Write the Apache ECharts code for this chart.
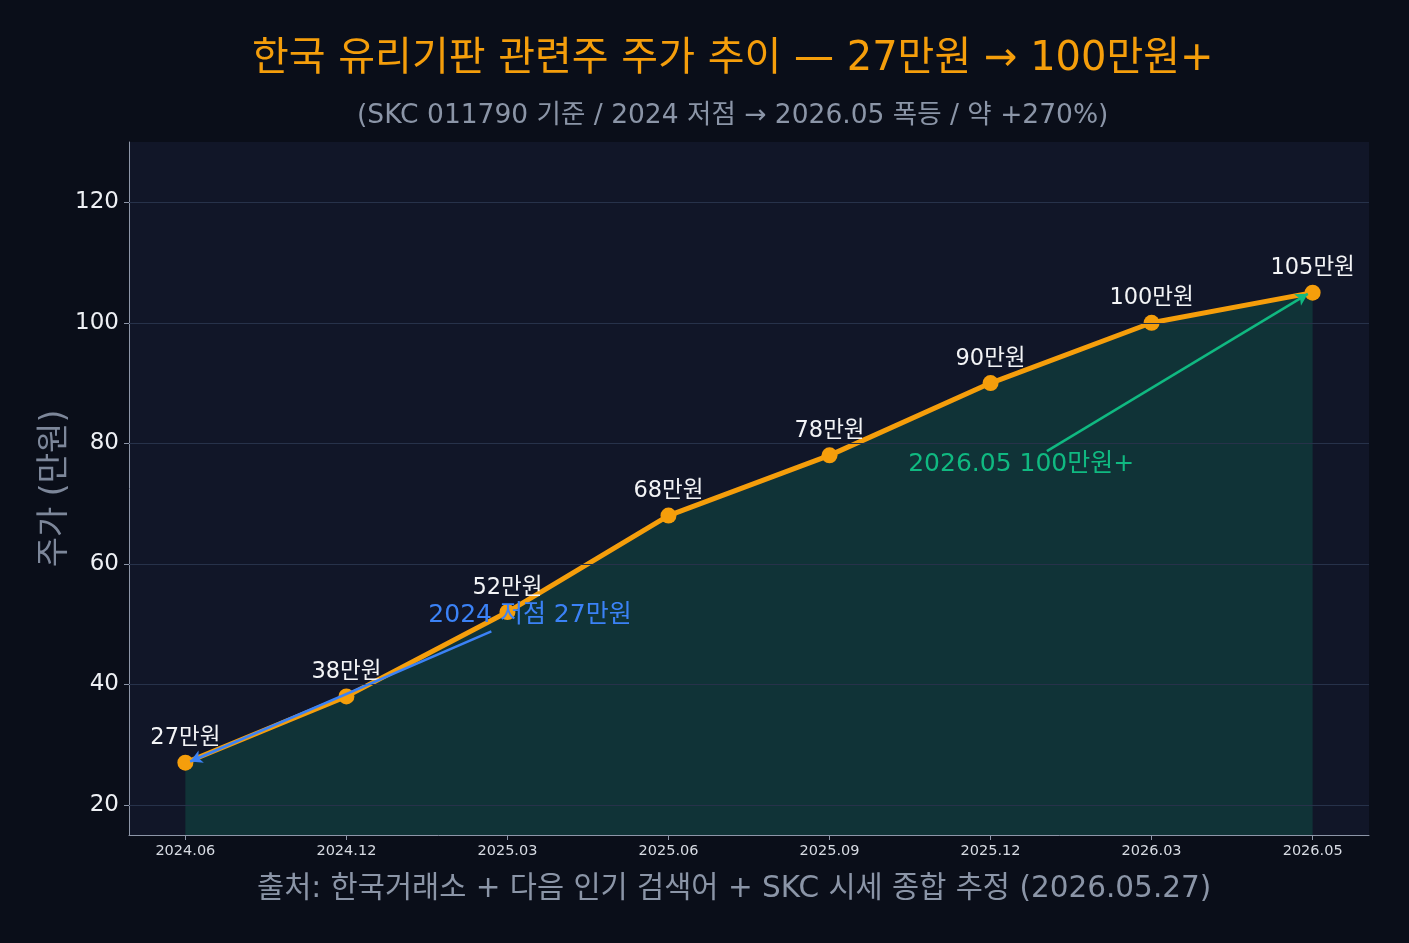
<!DOCTYPE html>
<html>
<head>
<meta charset="utf-8">
<script src="https://cdn.jsdelivr.net/npm/echarts@6/dist/echarts.min.js"></script>
<style>
    body { margin: 0; padding: 0; background: #0a0e19; }
    #content { width: 1409px; height: 943px; }
</style>
</head>
<body>
<div id="content"></div>
<script type="text/javascript">
    // data (만원)
    var periods = ['2024.06', '2024.12', '2025.03', '2025.06', '2025.09', '2025.12', '2026.03', '2026.05'];
    var prices = [27, 38, 52, 68, 78, 90, 100, 105];
    var yTicks = [20, 40, 60, 80, 100, 120];
    var xTicks = [0, 1, 2, 3, 4, 5, 6, 7];

    var FONT = '"DejaVu Sans", "Noto Sans CJK KR", sans-serif';

    var points = [];
    for (var c = 0; c < prices.length; c++) {
        points.push([c, prices[c]]);
    }

    var chart = echarts.init(document.getElementById('content'));

    const option = {
        backgroundColor: '#0a0e19',
        animation: false,
        title: [{
            text: '한국 유리기판 관련주 주가 추이 — 27만원 → 100만원+',
            left: 247,
            top: 35,
            textStyle: { color: '#f59e0b', fontSize: 40, fontWeight: 'normal', fontFamily: FONT }
        }, {
            text: '(SKC 011790 기준 / 2024 저점 → 2026.05 폭등 / 약 +270%)',
            left: 352,
            top: 98,
            textStyle: { color: '#8b95a7', fontSize: 26.5, fontWeight: 'normal', fontFamily: FONT }
        }, {
            text: '출처: 한국거래소 + 다음 인기 검색어 + SKC 시세 종합 추정 (2026.05.27)',
            left: 252,
            top: 870,
            textStyle: { color: '#8b95a7', fontSize: 29.5, fontWeight: 'normal', fontFamily: FONT }
        }],
        grid: {
            left: 129,
            right: 40,
            top: 142,
            bottom: 108,
            show: true,
            backgroundColor: '#111628',
            borderWidth: 0
        },
        xAxis: {
            type: 'value',
            min: -0.35,
            max: 7.35,
            splitLine: { show: false },
            axisLine: { show: true, onZero: false, lineStyle: { color: '#8d96a8', width: 1 } },
            axisTick: { show: true, customValues: xTicks, length: 5, lineStyle: { color: '#8d96a8' } },
            axisLabel: {
                customValues: xTicks,
                color: '#d7dbe3',
                fontSize: 14.5,
                fontFamily: FONT,
                margin: 9,
                formatter: function (v) { return periods[Math.round(v)]; }
            }
        },
        yAxis: {
            type: 'value',
            min: 15,
            max: 130,
            name: '주가 (만원)',
            nameLocation: 'middle',
            nameGap: 57,
            nameMoveOverlap: false,
            nameTextStyle: { color: '#7d879a', fontSize: 33, fontFamily: FONT },
            splitLine: { show: false },
            axisLine: { show: true, onZero: false, lineStyle: { color: '#8d96a8', width: 1 } },
            axisTick: { show: true, customValues: yTicks, length: 5, lineStyle: { color: '#8d96a8' } },
            axisLabel: {
                customValues: yTicks,
                color: '#eef0f4',
                fontSize: 23,
                fontFamily: FONT,
                margin: 10
            }
        },
        series: [{
            // gridlines
            type: 'line',
            data: [],
            z: 1,
            silent: true,
            markLine: {
                silent: true,
                symbol: 'none',
                label: { show: false },
                lineStyle: { color: '#27324a', width: 1, type: 'solid' },
                data: yTicks.map(function (v) { return { yAxis: v }; })
            }
        }, {
            name: '주가',
            type: 'line',
            z: 3,
            data: points,
            symbol: 'circle',
            symbolSize: 16,
            itemStyle: { color: '#f59e0b' },
            lineStyle: { color: '#f59e0b', width: 5 },
            areaStyle: { color: '#10b981', opacity: 0.18, origin: 'start' },
            label: {
                show: true,
                position: 'top',
                distance: 5,
                color: '#f3f4f6',
                fontSize: 22.5,
                fontFamily: FONT,
                formatter: function (p) { return p.value[1] + '만원'; }
            },
            markLine: {
                silent: true,
                symbol: ['none', 'arrow'],
                symbolSize: [10, 12],
                label: { show: false },
                data: [
                    [{ coord: [1.9, 48.8], lineStyle: { color: '#3b82f6', width: 2.5, type: 'solid' } },
                     { coord: [0.03, 27.2] }],
                    [{ coord: [5.35, 78.7], lineStyle: { color: '#10b981', width: 2.5, type: 'solid' } },
                     { coord: [6.97, 104.8] }]
                ]
            },
            markPoint: {
                silent: true,
                symbol: 'circle',
                symbolSize: 0,
                data: [{
                    coord: [2.14, 51.5],
                    label: { show: true, formatter: '2024 저점 27만원', color: '#3b82f6', fontSize: 25, fontFamily: FONT, position: 'inside' }
                }, {
                    coord: [5.19, 76.4],
                    label: { show: true, formatter: '2026.05 100만원+', color: '#10b981', fontSize: 25, fontFamily: FONT, position: 'inside' }
                }]
            }
        }]
    };

    chart.setOption(option);
</script>
</body>
</html>
